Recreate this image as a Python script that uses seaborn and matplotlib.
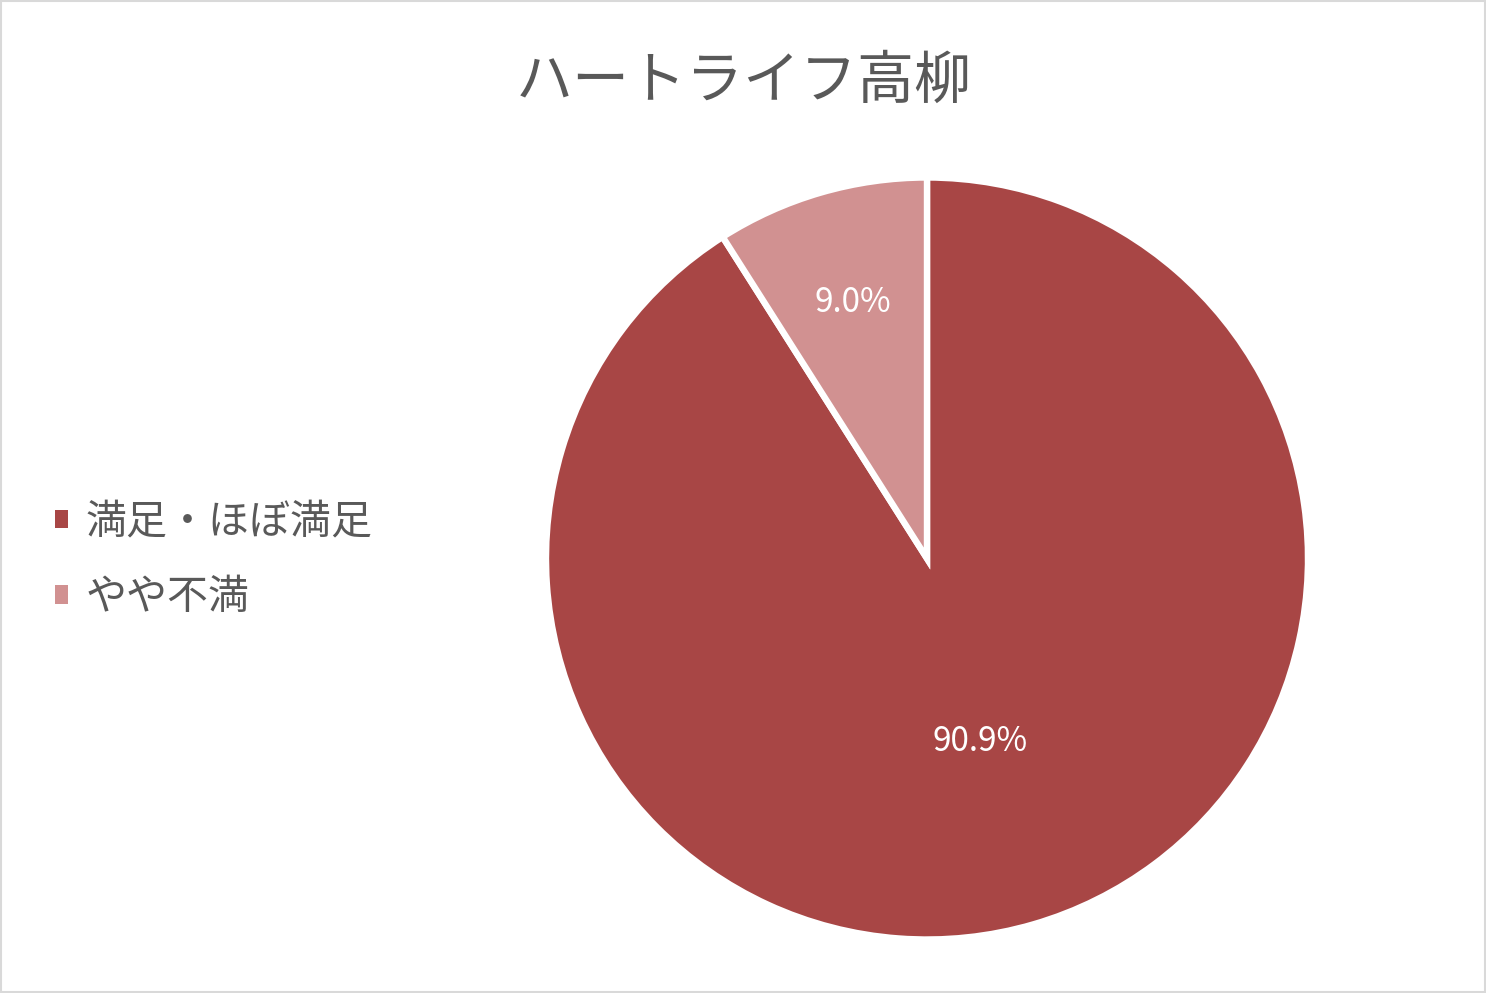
import numpy as np
import matplotlib
matplotlib.use("Agg")
import matplotlib.pyplot as plt
import matplotlib.patches as mpatches
import seaborn as sns

categories = ["満足・ほぼ満足", "やや不満"]
values = [90.9, 9.0]
pct_labels = ["90.9%", "9.0%"]
title = "ハートライフ高柳"
colors = ["#A84645", "#D19191"]

sns.set_theme(style="white")
plt.rcParams['font.family'] = ['Noto Sans CJK JP', 'DejaVu Sans']

W, H = 1486, 993
fig = plt.figure(figsize=(W / 100, H / 100), dpi=100)
fig.patch.set_facecolor("white")

cx, cy, r = 927, 558.5, 381
ax = fig.add_axes([(cx - r) / W, (H - cy - r) / H, 2 * r / W, 2 * r / H])
pal = sns.color_palette(colors)
wedges, _ = ax.pie(values, colors=pal, startangle=90, counterclock=False,
                   radius=1.0, wedgeprops=dict(edgecolor="white", linewidth=4.6))
ax.set_xlim(-1, 1)
ax.set_ylim(-1, 1)
ax.set_aspect("equal")
ax.axis("off")

dists = [0.5, 0.7]
for w, lab, d in zip(wedges, pct_labels, dists):
    mid = np.deg2rad((w.theta1 + w.theta2) / 2)
    ax.text(d * np.cos(mid), d * np.sin(mid), lab, ha="center", va="center",
            color="white", fontsize=24)

fig.text(744 / W, 1 - 82 / H, title, ha="center", va="center",
         fontsize=41, color="#595959")

handles = [mpatches.Patch(facecolor=c, edgecolor="none") for c in pal]
leg = fig.legend(handles, categories, loc="center left",
                 bbox_to_anchor=(55 / W, 1 - 560 / H), frameon=False,
                 fontsize=29.5, handlelength=0.32, handleheight=0.32,
                 handletextpad=0.42, labelspacing=0.85, labelcolor="#595959",
                 borderaxespad=0, borderpad=0)

fig.add_artist(mpatches.Rectangle((0.001, 0.001), 0.998, 0.998,
                                  transform=fig.transFigure, fill=False,
                                  edgecolor="#D9D9D9", linewidth=1.5))

fig.savefig("out.png", dpi=100, facecolor="white")
